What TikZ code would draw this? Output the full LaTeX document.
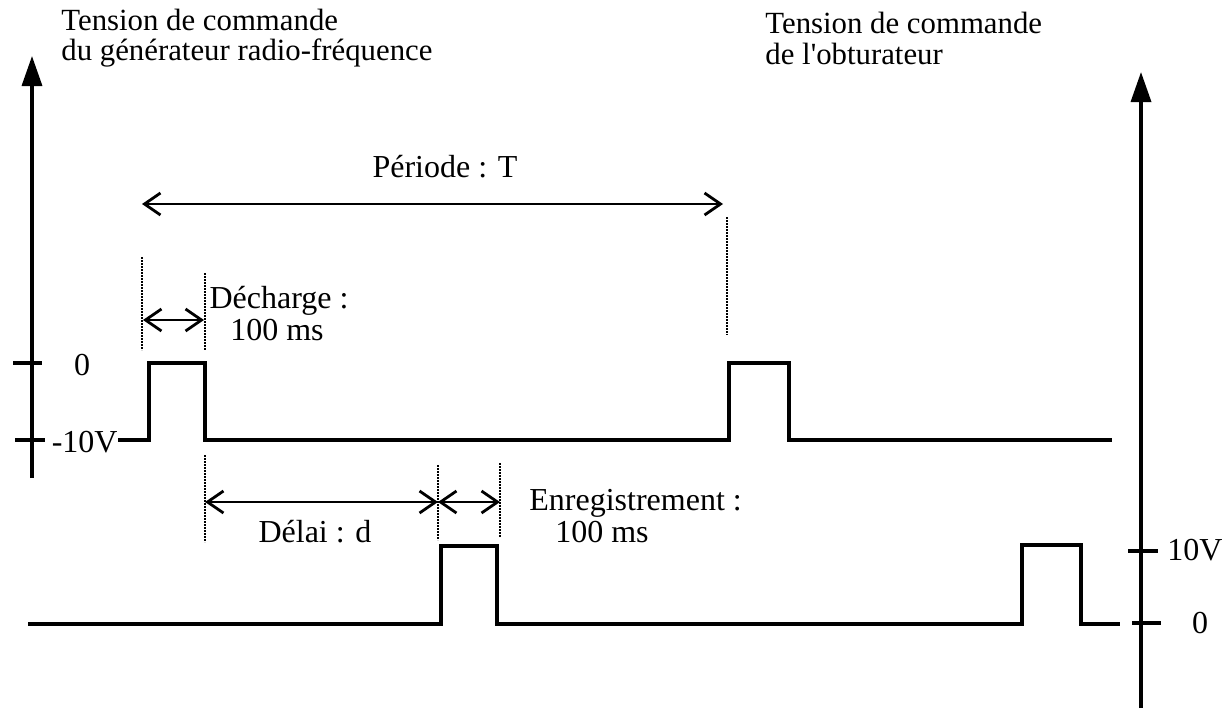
\documentclass[tikz,border=0pt]{standalone}
\usepackage{fontspec}
\setmainfont{Liberation Serif}
\usetikzlibrary{arrows.meta}

\begin{document}
\begin{tikzpicture}[x=0.5pt,y=-0.5pt,
  axis/.style={line width=1.7pt,-{Triangle[length=15pt,width=10pt]}},
  signal/.style={line width=1.7pt},
  tickmark/.style={line width=1.7pt},
  guide/.style={line width=1.4pt,dash pattern=on 1.2pt off 0.3pt},
  dimen/.style={line width=1.4pt,{Straight Barb[length=8pt,width=11pt]}-{Straight Barb[length=8pt,width=11pt]}},
  title/.style={inner sep=0pt,anchor=base west,font=\fontsize{15.4}{15}\selectfont},
  lbl/.style={inner sep=0pt,anchor=base,font=\fontsize{16}{16}\selectfont}]
  \useasboundingbox (0,0) rectangle (1230,713);

  % axes
  \coordinate (gbot) at (32,478);
  \coordinate (gtop) at (32,56);
  \coordinate (obot) at (1141,708);
  \coordinate (otop) at (1141,72);
  \draw[axis] (gbot) -- (gtop);
  \draw[axis] (obot) -- (otop);
  \draw[tickmark] (13,363) -- (42,363);
  \draw[tickmark] (15,440) -- (45,440);
  \draw[tickmark] (1128,551) -- (1158,551);
  \draw[tickmark] (1132,623) -- (1161,623);

  % titles
  \node[title] (gtitle) at (61,30) {Tension de commande};
  \node[title] (gtitleb) at (61,60) {du générateur radio-fréquence};
  \node[title] (otitle) at (765,33) {Tension de commande};
  \node[title] (otitleb) at (765,64) {de l\textquotesingle obturateur};

  % level labels
  \node[lbl] (gzero) at (82,375) {0};
  \node[lbl,anchor=base east] (gmin) at (118,452) {-10V};
  \node[lbl,anchor=base west] (omax) at (1167,560) {10V};
  \node[lbl] (ozero) at (1200,633) {0};

  % signals
  \draw[signal] (118,440) -- (149,440) -- (149,363) -- (205,363) -- (205,440)
    -- (729,440) -- (729,363) -- (789,363) -- (789,440) -- (1112,440);
  \draw[signal] (28,624) -- (441,624) -- (441,546) -- (497,546) -- (497,624)
    -- (1022,624) -- (1022,545) -- (1081,545) -- (1081,624) -- (1120,624);

  % guide lines
  \draw[guide] (142,257) -- (142,350);
  \draw[guide] (205,273) -- (205,350);
  \draw[guide] (727,217) -- (727,335);
  \draw[guide] (205,455) -- (205,542);
  \draw[guide] (438,465) -- (438,540);
  \draw[guide] (500,463) -- (500,537);

  % durations
  \coordinate (perA) at (142,204);
  \coordinate (perB) at (723,204);
  \coordinate (decA) at (143,320);
  \coordinate (decB) at (204,320);
  \coordinate (delA) at (205,502);
  \coordinate (delB) at (438,502);
  \coordinate (enrB) at (500,502);
  \draw[dimen] (perA) -- (perB);
  \draw[dimen] (decA) -- (decB);
  \draw[dimen] (delA) -- (delB);
  \draw[dimen] (delB) -- (enrB);

  \node[lbl] (periode) at (445,177) {Période : T};
  \node[lbl] (decharge) at (279,308) {Décharge :};
  \node[lbl] (dechargems) at (277,340) {100 ms};
  \node[lbl] (delai) at (315,542) {Délai : d};
  \node[lbl,anchor=base west] (enreg) at (529,510) {Enregistrement :};
  \node[lbl] (enregms) at (602,542) {100 ms};
\end{tikzpicture}
\end{document}
